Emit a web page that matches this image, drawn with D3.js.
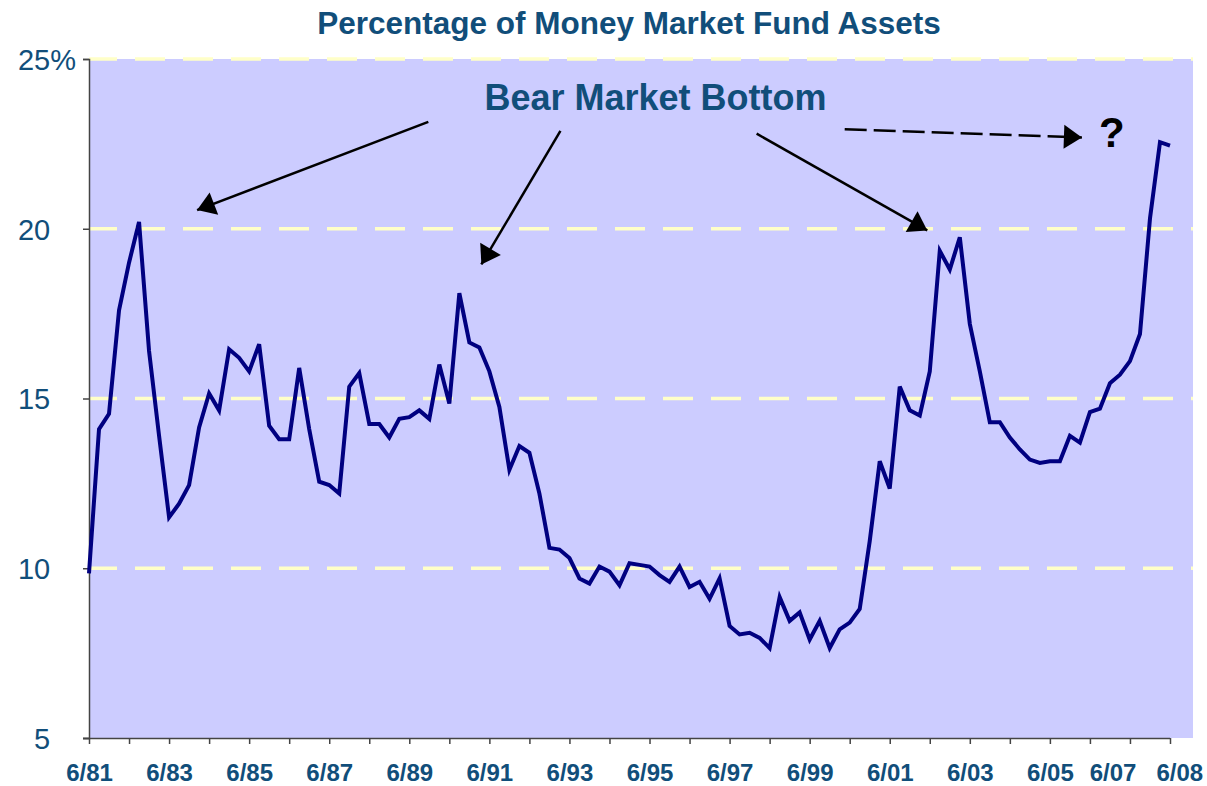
<!DOCTYPE html>
<html>
<head>
<meta charset="utf-8">
<script src="https://cdn.jsdelivr.net/npm/d3@7"></script>
<style>
  body { margin: 0; background: #fff; }
  text { font-family: "Liberation Sans", Arial, sans-serif; }
</style>
</head>
<body>
<div id="chart"></div>
<script>
// quarterly share of money market fund assets, 6/81 .. 6/08 (%)
const values = [
  9.85, 14.1, 14.55, 17.6, 19.0, 20.2, 16.4, 13.9, 11.5, 11.9,
  12.45, 14.15, 15.15, 14.65, 16.45, 16.2, 15.8, 16.6, 14.2, 13.8,
  13.8, 15.9, 14.1, 12.55, 12.45, 12.2, 15.35, 15.75, 14.25, 14.25,
  13.85, 14.4, 14.45, 14.65, 14.4, 16.0, 14.85, 18.1, 16.65, 16.5,
  15.8, 14.75, 12.9, 13.6, 13.4, 12.2, 10.6, 10.55, 10.3, 9.7,
  9.55, 10.05, 9.9, 9.5, 10.15, 10.1, 10.05, 9.8, 9.6, 10.05,
  9.45, 9.6, 9.1, 9.7, 8.3, 8.05, 8.1, 7.95, 7.65, 9.15,
  8.45, 8.7, 7.9, 8.45, 7.65, 8.2, 8.4, 8.8, 10.8, 13.15,
  12.35, 15.35, 14.65, 14.5, 15.8, 19.35, 18.8, 19.75, 17.2, 15.8,
  14.3, 14.3, 13.85, 13.5, 13.2, 13.1, 13.15, 13.15, 13.9, 13.7,
  14.6, 14.7, 15.45, 15.7, 16.1, 16.9, 20.3, 22.55, 22.45
];

// quarter labels (category axis)
const quarterMonths = [6, 9, 12, 3];
const startYear = 1981;
const quarters = values.map((v, i) => {
  const m = quarterMonths[i % 4];
  const yr = startYear + Math.floor((i + 2) / 4);
  return m + "/" + String(yr % 100).padStart(2, "0");
});

const yTicks = [5, 10, 15, 20, 25];
const gridValues = [10, 15, 20, 25];
const tickLabels = ["6/81","6/83","6/85","6/87","6/89","6/91","6/93","6/95",
                    "6/97","6/99","6/01","6/03","6/05","6/07","6/08"];

const title = "Percentage of Money Market Fund Assets";
const bearLabel = "Bear Market Bottom";

// annotation arrows in data units: [quarter index, percent]
const arrows = [
  { from: [33.9, 23.15], to: [10.8, 20.55], dashed: false },
  { from: [47.1, 22.88], to: [39.2, 18.95], dashed: false },
  { from: [66.7, 22.8],  to: [83.75, 19.95], dashed: false },
  { from: [75.5, 22.93], to: [99.2, 22.69], dashed: true }
];
const bearPos = [56.6, 23.5];
const questionPos = [102.2, 22.4];

const textBlue = "#114e7a";

const margin = { top: 59, right: 14, bottom: 48, left: 89 };
const width = 1207 - margin.left - margin.right;
const height = 786 - margin.top - margin.bottom;

const svg = d3.select("#chart")
  .append("svg")
    .attr("width", 1207)
    .attr("height", 786);

const g = svg.append("g")
  .attr("transform", `translate(${margin.left},${margin.top})`);

// plot background
g.append("rect")
  .attr("width", width)
  .attr("height", height)
  .attr("fill", "#ccccff");

const x = d3.scaleLinear()
  .domain([0, values.length - 1])
  .range([0, 1081]);

const y = d3.scaleLinear()
  .domain([5, 25])
  .range([height, 0]);

// dashed gridlines
g.append("g")
  .selectAll("line")
  .data(gridValues)
  .join("line")
    .attr("x1", 0)
    .attr("x2", width)
    .attr("y1", d => y(d))
    .attr("y2", d => y(d))
    .attr("stroke", "#ffffc8")
    .attr("stroke-width", 3.5)
    .attr("stroke-dasharray", "30,18")
    .attr("stroke-dashoffset", 2);

// Y axis
const yAxis = g.append("g")
  .call(d3.axisLeft(y).tickValues(yTicks).tickSize(6).tickPadding(7).tickFormat(d => d));
yAxis.select(".domain").attr("stroke", "#444").attr("stroke-width", 1.5);
yAxis.selectAll(".tick line").attr("stroke", "#444").attr("stroke-width", 1.5);
yAxis.selectAll(".tick text")
  .attr("fill", textBlue)
  .style("font-size", "29px")
  .attr("dy", "0.36em")
  .text(null)
  .each(function(d) {
    const t = d3.select(this);
    t.append("tspan").text(d);
    // keep the digits aligned like the "25%" label
    t.append("tspan").text("%").attr("fill-opacity", d === 25 ? 1 : 0);
  });

// X axis
const xAxis = g.append("g")
  .attr("transform", `translate(0,${height})`)
  .call(d3.axisBottom(x)
    .tickValues(d3.range(0, values.length, 4))
    .tickSize(6)
    .tickPadding(20)
    .tickSizeOuter(0)
    .tickFormat(i => tickLabels.includes(quarters[i]) ? quarters[i] : ""));
xAxis.select(".domain").attr("stroke", "#444").attr("stroke-width", 1.5)
  .attr("d", `M-6,0.5H${x(values.length - 1)}`);
xAxis.selectAll(".tick line").attr("stroke", "#444").attr("stroke-width", 1.5);
xAxis.selectAll(".tick text")
  .attr("fill", textBlue)
  .style("font-size", "24px")
  .style("font-weight", "bold");

// last two labels sit closer than a year apart: push them apart
const labelled = xAxis.selectAll(".tick text").filter(function() { return this.textContent !== ""; });
const nLab = labelled.size();
labelled.each(function(d, k) {
  if (k === nLab - 2) d3.select(this).attr("text-anchor", "end").attr("dx", 6);
  if (k === nLab - 1) d3.select(this).attr("text-anchor", "start").attr("dx", -14);
});

// the series
const line = d3.line()
  .x((d, i) => x(i))
  .y(d => y(d));

g.append("path")
  .datum(values)
  .attr("fill", "none")
  .attr("stroke", "#000080")
  .attr("stroke-width", 4)
  .attr("stroke-linejoin", "miter")
  .attr("d", line);

// arrow heads
svg.append("defs").append("marker")
  .attr("id", "head")
  .attr("markerUnits", "userSpaceOnUse")
  .attr("viewBox", "-20 -13 22 26")
  .attr("refX", 0)
  .attr("refY", 0)
  .attr("markerWidth", 22)
  .attr("markerHeight", 26)
  .attr("orient", "auto")
  .append("path")
    .attr("d", "M0,0L-18,-12L-18,12Z")
    .attr("fill", "#000");

g.append("g")
  .selectAll("line")
  .data(arrows)
  .join("line")
    .attr("x1", d => x(d.from[0]))
    .attr("y1", d => y(d.from[1]))
    .attr("x2", d => x(d.to[0]))
    .attr("y2", d => y(d.to[1]))
    .attr("stroke", "#000")
    .attr("stroke-width", 2.5)
    .attr("stroke-dasharray", d => d.dashed ? "22,7" : null)
    .attr("marker-end", "url(#head)");

g.append("text")
  .attr("x", x(bearPos[0]))
  .attr("y", y(bearPos[1]))
  .attr("text-anchor", "middle")
  .attr("fill", textBlue)
  .style("font-size", "36px")
  .style("font-weight", "bold")
  .text(bearLabel);

g.append("text")
  .attr("x", x(questionPos[0]))
  .attr("y", y(questionPos[1]))
  .attr("text-anchor", "middle")
  .attr("fill", "#000")
  .style("font-size", "42px")
  .style("font-weight", "bold")
  .text("?");

// title
svg.append("text")
  .attr("x", 629)
  .attr("y", 34)
  .attr("text-anchor", "middle")
  .attr("fill", textBlue)
  .style("font-size", "31.5px")
  .style("font-weight", "bold")
  .text(title);
</script>
</body>
</html>
